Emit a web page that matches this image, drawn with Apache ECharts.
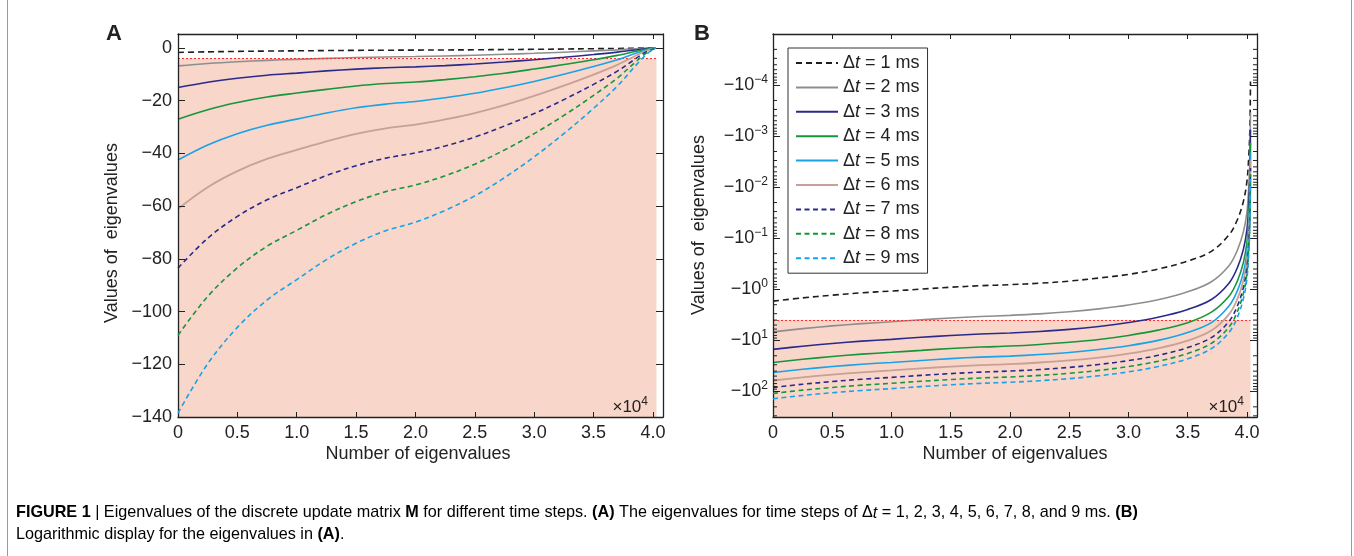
<!DOCTYPE html>
<html><head><meta charset="utf-8">
<script src="https://cdn.jsdelivr.net/npm/echarts@6/dist/echarts.min.js"></script>
<style>html,body{margin:0;padding:0;background:#fff}#c{width:1354px;height:556px}</style>
</head><body><div id="c"></div>
<script>
// x positions (×10^4 eigenvalue index)
const xPos = [0, 0.25, 0.5, 0.75, 1.0, 1.25, 1.5, 1.75, 2.0, 2.25, 2.5, 2.75, 3.0, 3.25, 3.5, 3.7, 3.85, 3.92, 3.97, 4.0, 4.015, 4.025, 4.03];
// eigenvalues for each time step
const dt1 = [-1.7, -1.47, -1.30, -1.17, -1.08, -0.99, -0.91, -0.85, -0.81, -0.76, -0.69, -0.60, -0.51, -0.40, -0.28, -0.18, -0.085, -0.043, -0.019, -0.0077, -0.0026, -0.00068, -0.000085];
const dt2 = [-6.8, -5.88, -5.20, -4.69, -4.32, -3.94, -3.64, -3.40, -3.24, -3.03, -2.75, -2.41, -2.03, -1.60, -1.12, -0.71, -0.34, -0.17, -0.075, -0.031, -0.010, -0.0027, -0.00034];
const dt3 = [-15, -12.98, -11.48, -10.35, -9.53, -8.7, -8.03, -7.5, -7.16, -6.68, -6.08, -5.33, -4.47, -3.53, -2.48, -1.58, -0.75, -0.375, -0.165, -0.068, -0.0225, -0.006, -0.00075];
const dt4 = [-27, -23.4, -20.7, -18.6, -17.1, -15.7, -14.4, -13.5, -12.9, -12.0, -10.9, -9.6, -8.0, -6.3, -4.5, -2.8, -1.35, -0.68, -0.30, -0.12, -0.04, -0.011, -0.00135];
const dt5 = [-42.5, -36.8, -32.5, -29.3, -27.0, -24.7, -22.7, -21.3, -20.3, -18.9, -17.2, -15.1, -12.7, -10.0, -7.0, -4.5, -2.1, -1.06, -0.47, -0.19, -0.064, -0.017, -0.0021];
const dt6 = [-61, -52.8, -46.7, -42.1, -38.7, -35.4, -32.6, -30.5, -29.1, -27.1, -24.7, -21.7, -18.2, -14.3, -10.1, -6.4, -3.05, -1.53, -0.67, -0.27, -0.092, -0.024, -0.003];
const dt7 = [-83.5, -72.2, -63.9, -57.6, -53.0, -48.4, -44.7, -41.8, -39.8, -37.2, -33.8, -29.6, -24.9, -19.6, -13.8, -8.8, -4.2, -2.1, -0.92, -0.38, -0.125, -0.033, -0.0042];
const dt8 = [-109, -94.3, -83.4, -75.2, -69.2, -63.2, -58.3, -54.5, -52.0, -48.5, -44.1, -38.7, -32.5, -25.6, -18.0, -11.4, -5.45, -2.7, -1.2, -0.49, -0.16, -0.044, -0.0055];
const dt9 = [-138.5, -119.8, -106.0, -95.6, -87.9, -80.3, -74.1, -69.3, -66.1, -61.6, -56.1, -49.2, -41.3, -32.5, -22.9, -14.5, -6.9, -3.5, -1.52, -0.62, -0.21, -0.055, -0.0069];
const seriesNames = ['Δt = 1 ms', 'Δt = 2 ms', 'Δt = 3 ms', 'Δt = 4 ms', 'Δt = 5 ms', 'Δt = 6 ms', 'Δt = 7 ms', 'Δt = 8 ms', 'Δt = 9 ms'];
const allData = [dt1, dt2, dt3, dt4, dt5, dt6, dt7, dt8, dt9];
const threshold = -4;      // red dotted line / shaded region top
const xEnd = 4.03;          // last eigenvalue index
const xTickLabelsA = ['0', '0.5', '1.0', '1.5', '2.0', '2.5', '3.0', '3.5', '4.0'];
const yTicksA = [0, -20, -40, -60, -80, -100, -120, -140];
const logDecadesB = [-4, -3, -2, -1, 0, 1, 2];

const colors = ['#1e1e1e', '#8e8e8e', '#2b2a8c', '#15963c', '#18a3e6', '#c9a095', '#2b2a8c', '#15963c', '#18a3e6'];
const dashed = [true, false, false, false, false, false, true, true, true];

const FONT = 'Liberation Sans, Arial, sans-serif';
const INK = '#222';
const TICKFS = 18;
const XMIN = 0, XMAX = 4.085;
const YMIN_A = -140, YMAX_A = 5.3;
const YMIN_B = 1e-5, YMAX_B = 316.2;

function xFmt(v) {
  const k = Math.round(v / 0.5);
  if (Math.abs(v / 0.5 - k) > 1e-6 || k > 8) return '';
  return xTickLabelsA[k];
}
function yFmtA(v) {
  if (yTicksA.indexOf(v) < 0) return '';
  return v === 0 ? '0' : '\u2212' + Math.abs(v);
}
function yFmtB(v) {
  const L = Math.log10(v);
  const k = Math.round(L);
  if (Math.abs(L - k) > 1e-6 || logDecadesB.indexOf(k) < 0) return '';
  return '{b|\u221210}{s|' + (k < 0 ? '\u2212' + (-k) : k) + '}';
}

const axisLine = { show: true, onZero: false, lineStyle: { color: INK, width: 1.3 } };
const lab = { color: INK, fontFamily: FONT, fontSize: TICKFS };

const xAxes = [], yAxes = [];
[0, 1].forEach(g => {
  xAxes.push({ type: 'value', gridIndex: g, min: XMIN, max: XMAX, interval: 0.5, position: 'bottom', z: 10,
    axisLine, splitLine: { show: false },
    axisTick: { inside: true, length: 5, lineStyle: { color: INK } },
    axisLabel: Object.assign({ formatter: xFmt, margin: 7, showMaxLabel: false }, lab) });
  xAxes.push({ type: 'value', gridIndex: g, min: XMIN, max: XMAX, interval: 0.5, position: 'top', z: 10,
    axisLine, splitLine: { show: false },
    axisTick: { inside: true, length: 5, lineStyle: { color: INK } },
    axisLabel: { show: false } });
});
// A y axes
yAxes.push({ type: 'value', gridIndex: 0, min: YMIN_A, max: YMAX_A, interval: 20, position: 'left', z: 10,
  axisLine, splitLine: { show: false },
  axisTick: { inside: true, length: 7, lineStyle: { color: INK } },
  axisLabel: Object.assign({ formatter: yFmtA, margin: 6 }, lab) });
yAxes.push({ type: 'value', gridIndex: 0, min: YMIN_A, max: YMAX_A, interval: 20, position: 'right', z: 10,
  axisLine, splitLine: { show: false },
  axisTick: { inside: true, length: 7, lineStyle: { color: INK } },
  axisLabel: { show: false } });
// B y axes (log, inverted)
const richB = { b: { color: INK, fontFamily: FONT, fontSize: TICKFS }, s: { color: INK, fontFamily: FONT, fontSize: 12, padding: [0, 0, 11, 0] } };
yAxes.push({ type: 'log', logBase: 10, gridIndex: 1, min: YMIN_B, max: YMAX_B, inverse: true, splitNumber: 6, position: 'left', z: 10,
  axisLine, splitLine: { show: false },
  axisTick: { inside: true, length: 7, lineStyle: { color: INK } },
  axisLabel: Object.assign({ formatter: yFmtB, margin: 5, rich: richB }, lab) });
yAxes.push({ type: 'log', logBase: 10, gridIndex: 1, min: YMIN_B, max: YMAX_B, inverse: true, splitNumber: 6, position: 'right', z: 10,
  axisLine, splitLine: { show: false },
  axisTick: { inside: true, length: 7, lineStyle: { color: INK } },
  axisLabel: { show: false } });

const series = [];
[0, 1].forEach(g => {
  allData.forEach((arr, i) => {
    const s = {
      type: 'line', name: seriesNames[i], xAxisIndex: g * 2, yAxisIndex: g * 2,
      data: xPos.map((x, j) => [x, g === 0 ? arr[j] : Math.abs(arr[j])]),
      symbol: 'none', smooth: 0.35, z: 3 + i, silent: true,
      lineStyle: { color: colors[i], width: i === 5 ? 1.8 : 1.6, type: dashed[i] ? (i === 0 ? [6, 4] : [5, 3.5]) : 'solid' },
      itemStyle: { color: colors[i] }
    };
    if (i === 0) {
      const yTop = g === 0 ? threshold : Math.abs(threshold);
      const yBot = g === 0 ? YMIN_A : YMAX_B;
      s.markArea = { silent: true, itemStyle: { color: '#f8d6c9', opacity: 1 },
        data: [[{ coord: [0, yTop] }, { coord: [xEnd, yBot] }]] };
      s.markLine = { silent: true, symbol: ['none', 'none'], label: { show: false },
        lineStyle: { color: '#ff2a2a', type: [2, 2], width: 1.2 },
        data: [[{ coord: [0, yTop] }, { coord: [xEnd, yTop] }]] };
    }
    series.push(s);
  });
});
// minor log ticks on panel B (left and right frame)
const minorVals = [];
for (let d = -5; d <= 2; d++) for (let m = 2; m <= 9; m++) { const v = m * Math.pow(10, d); if (v < YMAX_B) minorVals.push([0, v]); }
series.push({
  type: 'custom', xAxisIndex: 2, yAxisIndex: 2, clip: false, silent: true, z: 20,
  data: minorVals,
  renderItem: (params, api) => {
    const v = api.value(1);
    const p1 = api.coord([XMIN, v]);
    const p2 = api.coord([XMAX, v]);
    const st = { stroke: INK, lineWidth: 1 };
    return { type: 'group', children: [
      { type: 'line', shape: { x1: p1[0], y1: p1[1], x2: p1[0] + 4, y2: p1[1] }, style: st },
      { type: 'line', shape: { x1: p2[0] - 4, y1: p2[1], x2: p2[0], y2: p2[1] }, style: st }
    ] };
  }
});

const rt = (x, y, text, extra) => ({ type: 'text', x, y, z: 100, silent: true,
  style: Object.assign({ text, fill: INK, font: '18px ' + FONT, align: 'center', verticalAlign: 'middle' }, extra || {}) });

const capFont = 'Liberation Sans, Arial, sans-serif';
const CAPFS = 16.2;
const capRich = {
  n: { fontFamily: capFont, fontSize: CAPFS, color: '#222' },
  b: { fontFamily: capFont, fontSize: CAPFS, fontWeight: 'bold', color: '#222' },
  i: { fontFamily: capFont, fontSize: CAPFS, fontStyle: 'italic', color: '#222' }
};
const x104 = { a: { fontFamily: FONT, fontSize: 17, color: INK }, s: { fontFamily: FONT, fontSize: 12, color: INK, padding: [0, 0, 11, 0] } };

const option = {
  backgroundColor: '#fff',
  animation: false,
  grid: [
    { left: 178, top: 34, width: 485, height: 383 },
    { left: 773, top: 34, width: 484, height: 383 }
  ],
  xAxis: xAxes, yAxis: yAxes, series,
  legend: {
    data: seriesNames, orient: 'vertical', left: 788, top: 48,
    itemWidth: 42, itemHeight: 14, itemGap: 4.4,
    padding: [5, 8, 5, 7], borderColor: '#333', borderWidth: 1, backgroundColor: '#fff',
    selectedMode: false,
    itemStyle: { opacity: 0 },
    textStyle: { color: INK, fontFamily: FONT, fontSize: 18, lineHeight: 20,
      rich: { d: { fontFamily: FONT, fontSize: 18, color: INK }, it: { fontFamily: FONT, fontSize: 18, fontStyle: 'italic', color: INK } } },
    formatter: n => '{d|Δ}{it|t}{d|' + n.slice(2) + '}'
  },
  graphic: [
    rt(114, 34, 'A', { font: 'bold 22px ' + FONT }),
    rt(702, 34, 'B', { font: 'bold 22px ' + FONT }),
    Object.assign(rt(0, 0, 'Values of  eigenvalues'), { x: 112, y: 233, rotation: Math.PI / 2 }),
    Object.assign(rt(0, 0, 'Values of  eigenvalues'), { x: 699, y: 225, rotation: Math.PI / 2 }),
    rt(418, 454, 'Number of eigenvalues'),
    rt(1015, 454, 'Number of eigenvalues'),
    rt(648, 407, '{a|×10}{s|4}', { align: 'right', rich: x104 }),
    rt(1244, 407, '{a|×10}{s|4}', { align: 'right', rich: x104 }),
    { type: 'text', x: 16, y: 513, z: 100, silent: true, style: { verticalAlign: 'middle', align: 'left',
      text: '{b|FIGURE 1}{n| | Eigenvalues of the discrete update matrix }{b|M}{n| for different time steps. }{b|(A)}{n| The eigenvalues for time steps of Δ}{i|t}{n| = 1, 2, 3, 4, 5, 6, 7, 8, and 9 ms. }{b|(B)}',
      rich: capRich } },
    { type: 'text', x: 16, y: 535, z: 100, silent: true, style: { verticalAlign: 'middle', align: 'left',
      text: '{n|Logarithmic display for the eigenvalues in }{b|(A)}{n|.}', rich: capRich } },
    { type: 'line', silent: true, shape: { x1: 7.5, y1: 0, x2: 7.5, y2: 556 }, style: { stroke: '#999', lineWidth: 1 } },
    { type: 'line', silent: true, shape: { x1: 1351.5, y1: 0, x2: 1351.5, y2: 556 }, style: { stroke: '#999', lineWidth: 1 } }
  ]
};
echarts.init(document.getElementById('c')).setOption(option);
</script>
</body></html>
